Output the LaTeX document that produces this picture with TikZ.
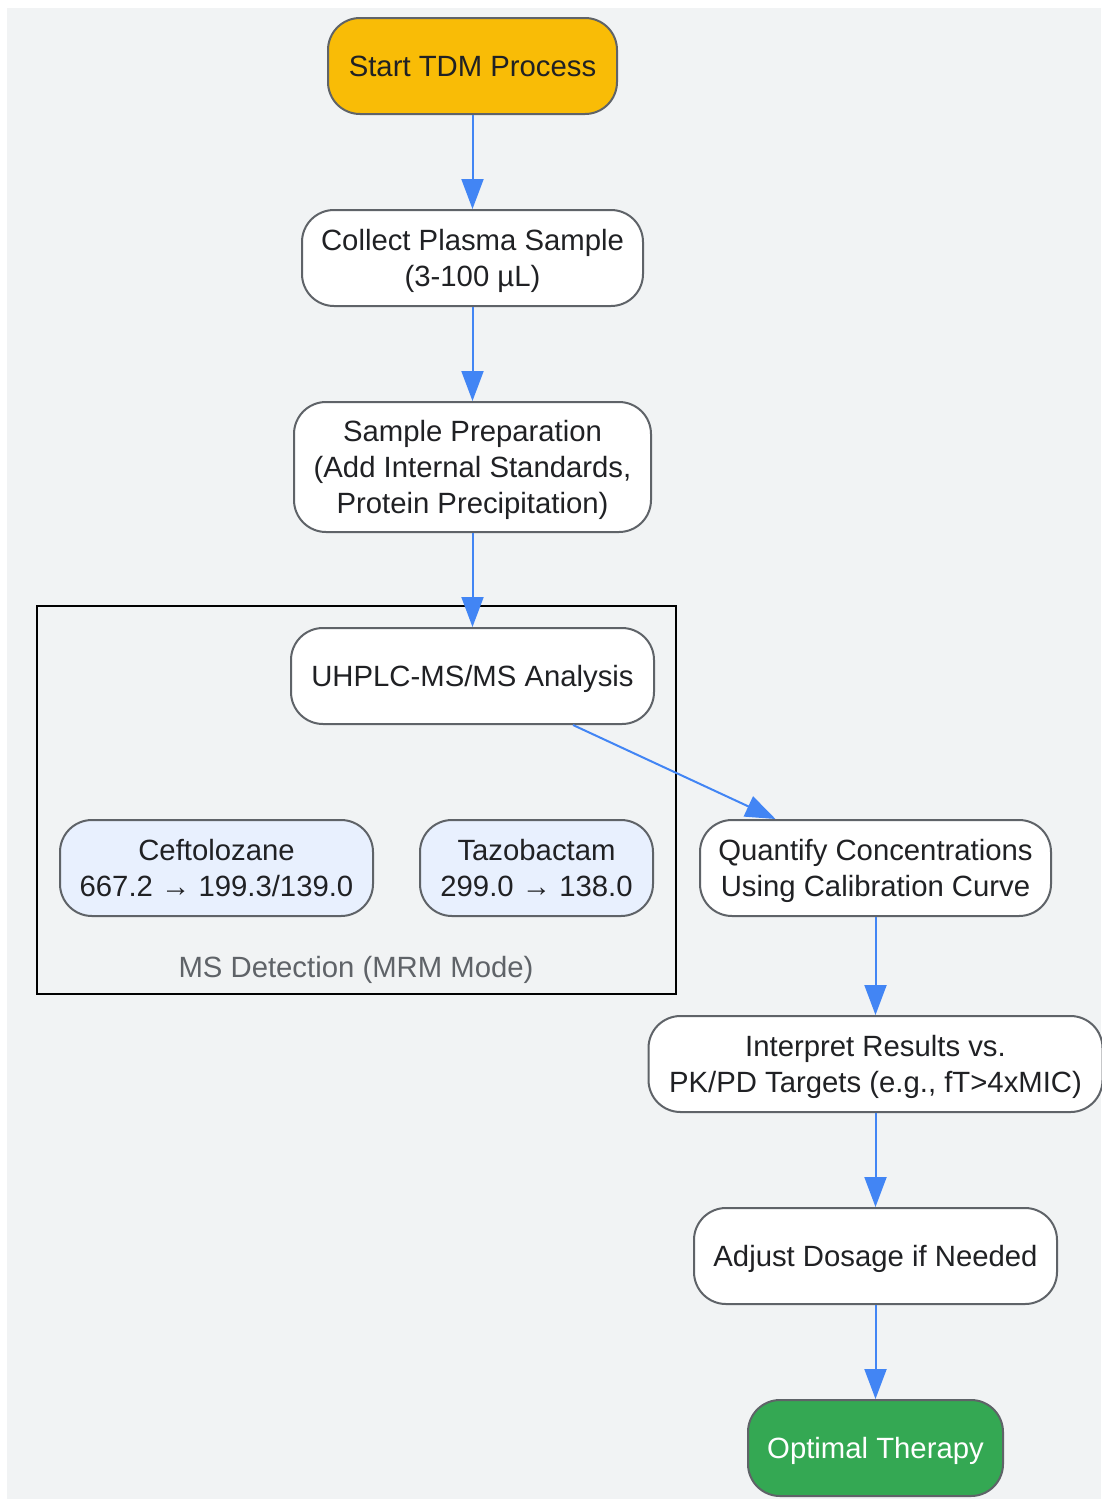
\documentclass[tikz,border=0pt]{standalone}
\usepackage{fontspec}
\setmainfont{Liberation Sans}
\usetikzlibrary{arrows.meta}
\definecolor{bg}{HTML}{F1F3F4}
\definecolor{bordergrey}{HTML}{5F6368}
\definecolor{txt}{HTML}{202124}
\definecolor{startc}{HTML}{F9BC06}
\definecolor{endc}{HTML}{34A853}
\definecolor{lightblue}{HTML}{E8F0FE}
\definecolor{arrowc}{HTML}{4285F4}
\begin{document}
\begin{tikzpicture}[x=1pt,y=-1pt,
 box/.style={draw=bordergrey, line width=2pt, rounded corners=32pt, fill=white,
   minimum height=96pt, inner sep=0pt},
 tx/.style={text=txt, align=center, anchor=base, inner sep=0pt,
   font=\fontsize{29.3}{36}\selectfont},
 one/.style={yshift=-10pt},
 two/.style={yshift=-28pt},
 three/.style={yshift=-46pt},
 flow/.style={draw=arrowc, line width=2pt, -{Triangle[length=30pt,width=22pt]}}]
\useasboundingbox (0,0) rectangle (1101,1499);
\fill[white] (0,0) rectangle (1101,1499);
\fill[bg] (7,8) rectangle (1101,1499);
% cluster
\draw[black, line width=2.5pt] (37,606) rectangle (676,994);
\node[tx, text=bordergrey] (clab) at (356,977) {MS Detection (MRM Mode)};
% boxes
\node[box, fill=startc, minimum width=289pt] (start) at (472.5,66) {};
\node[box, minimum width=341pt] (collect) at (472.5,258) {};
\node[box, minimum width=357pt, minimum height=130pt] (prep) at (472.5,467) {};
\node[box, minimum width=363pt] (uhplc) at (472.5,676) {};
\node[box, fill=lightblue, minimum width=313pt] (ceft) at (216.5,868) {};
\node[box, fill=lightblue, minimum width=233pt] (tazo) at (536.5,868) {};
\node[box, minimum width=351pt] (quant) at (875.5,868) {};
\node[box, minimum width=454pt] (interp) at (875.5,1064) {};
\node[box, minimum width=363pt] (adjust) at (875.5,1256) {};
\node[box, fill=endc, minimum width=255pt] (optimal) at (875.5,1448) {};
% texts
\node[tx, one] (start-t) at (start.center) {Start TDM Process};
\node[tx, two] (collect-t) at (collect.center) {Collect Plasma Sample\\(3-100 µL)};
\node[tx, three] (prep-t) at (prep.center) {Sample Preparation\\(Add Internal Standards,\\Protein Precipitation)};
\node[tx, one] (uhplc-t) at (uhplc.center) {UHPLC-MS/MS Analysis};
\node[tx, two] (ceft-t) at (ceft.center) {Ceftolozane\\667.2 → 199.3/139.0};
\node[tx, two] (tazo-t) at (tazo.center) {Tazobactam\\299.0 → 138.0};
\node[tx, two] (quant-t) at (quant.center) {Quantify Concentrations\\Using Calibration Curve};
\node[tx, two] (interp-t) at (interp.center) {Interpret Results vs.\\PK/PD Targets (e.g., fT>4xMIC)};
\node[tx, one] (adjust-t) at (adjust.center) {Adjust Dosage if Needed};
\node[tx, one, text=white] (optimal-t) at (optimal.center) {Optimal Therapy};
% edges
\draw[flow] (start) -- (collect);
\draw[flow] (collect) -- (prep);
\draw[flow] (prep) -- (uhplc);
\draw[flow] ([xshift=100.5pt]uhplc.south) -- ([xshift=-100pt]quant.north);
\draw[flow] (quant) -- (interp);
\draw[flow] (interp) -- (adjust);
\draw[flow] (adjust) -- (optimal);
\end{tikzpicture}
\end{document}
